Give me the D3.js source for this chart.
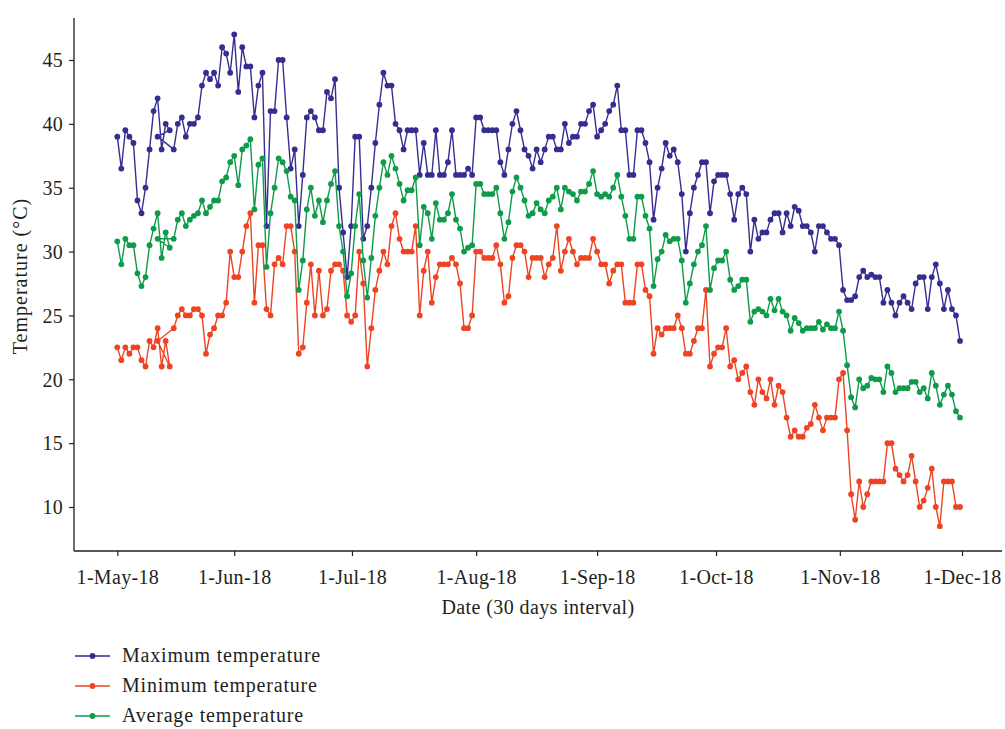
<!DOCTYPE html>
<html><head><meta charset="utf-8">
<script src="https://cdn.jsdelivr.net/npm/d3@7"></script>
<style>
html,body{margin:0;padding:0;background:#fff;}
svg text{font-family:"Liberation Serif","Times New Roman",serif;fill:#231f20;}
</style></head>
<body>
<svg id="chart" width="1005" height="729"></svg>
<script>
// ---- data (sequence order as plotted) ----
const maxTemp = [39.0,36.5,39.5,39.0,38.5,34.0,33.0,35.0,38.0,41.0,42.0,38.0,40.0,39.5,39.0,38.0,40.0,40.5,39.0,40.0,40.0,40.5,43.0,44.0,43.5,44.0,43.0,46.0,45.5,44.0,47.0,42.5,
46.0,44.5,44.5,40.5,43.0,44.0,32.0,41.0,41.0,45.0,45.0,40.5,36.5,38.0,32.0,36.0,40.5,41.0,40.5,39.5,39.5,42.5,42.0,43.5,35.0,31.5,28.0,32.0,39.0,39.0,
31.0,32.0,35.0,38.5,41.5,44.0,43.0,43.0,40.0,39.5,38.0,39.5,39.5,39.5,36.0,38.5,36.0,36.0,39.5,36.0,36.0,37.0,39.5,36.0,36.0,36.0,36.5,36.0,40.5,40.5,
39.5,39.5,39.5,39.5,37.0,36.0,38.0,40.0,41.0,39.5,38.0,37.5,36.5,38.0,37.0,38.0,39.0,39.0,38.0,38.0,40.0,38.5,39.0,39.0,40.0,40.0,41.0,41.5,39.0,
39.5,40.0,41.0,41.5,43.0,39.5,39.5,36.0,36.0,39.5,39.5,38.5,37.0,32.5,35.0,36.5,38.5,37.5,38.0,37.0,34.5,30.0,33.0,35.0,36.0,37.0,37.0,33.0,35.5,36.0,
36.0,36.0,34.5,32.5,34.5,35.0,34.5,30.0,32.5,31.0,31.5,31.5,32.5,33.0,33.0,31.5,33.0,32.0,33.5,33.2,32.0,32.0,31.5,30.0,32.0,32.0,31.5,31.0,31.0,30.5,
27.0,26.2,26.2,26.5,28.0,28.5,28.0,28.2,28.0,28.0,26.0,27.0,26.0,25.0,26.0,26.5,26.0,25.5,27.5,28.0,28.0,25.5,28.0,29.0,27.5,25.5,27.0,25.5,25.0,23.0];

const minTemp = [22.5,21.5,22.5,22.0,22.5,22.5,21.5,21.0,23.0,22.5,24.0,21.0,23.0,21.0,23.0,24.0,25.0,25.5,25.0,25.0,25.5,25.5,25.0,22.0,23.5,24.0,25.0,25.0,26.0,30.0,28.0,28.0,
30.0,32.0,33.0,26.0,30.5,30.5,25.5,25.0,29.0,29.5,29.0,32.0,32.0,30.0,22.0,22.5,26.0,29.0,25.0,28.5,25.0,25.5,28.5,29.0,29.0,28.5,25.0,24.5,25.0,30.0,
27.5,21.0,24.0,27.0,28.5,30.0,29.0,32.0,33.0,31.0,30.0,30.0,30.0,32.0,25.0,28.5,30.0,26.0,28.0,29.0,29.0,29.0,29.5,29.0,27.5,24.0,24.0,25.0,30.0,30.0,
29.5,29.5,29.5,30.5,29.0,26.0,26.5,29.5,30.5,30.5,30.0,28.0,29.5,29.5,29.5,28.0,29.0,29.5,32.0,28.5,30.0,31.0,30.0,29.0,29.5,29.5,29.5,31.0,30.0,
29.0,29.0,27.5,28.5,29.0,29.0,26.0,26.0,26.0,29.0,29.0,27.0,26.5,22.0,24.0,23.5,24.0,24.0,24.0,25.0,24.0,22.0,22.0,23.0,24.0,24.0,27.0,21.0,22.0,22.5,
22.5,24.0,21.0,21.5,20.0,20.5,21.0,19.0,18.0,20.0,19.0,18.5,20.0,18.0,19.5,19.0,17.0,15.5,16.0,15.5,15.5,16.2,16.5,18.0,17.0,16.0,17.0,17.0,17.0,20.0,
20.5,16.0,11.0,9.0,12.0,10.0,11.0,12.0,12.0,12.0,12.0,15.0,15.0,13.0,12.5,12.0,12.5,14.0,12.0,10.0,10.5,11.5,13.0,10.0,8.5,12.0,12.0,12.0,10.0,10.0];

const avgTemp = [30.8,29.0,31.0,30.5,30.5,28.3,27.3,28.0,30.5,31.8,33.0,29.5,31.5,30.3,31.0,31.0,32.5,33.0,32.0,32.5,32.8,33.0,34.0,33.0,33.5,34.0,34.0,35.5,35.8,37.0,37.5,35.2,
38.0,38.3,38.8,33.3,36.8,37.3,28.8,33.0,35.0,37.3,37.0,36.3,34.3,34.0,27.0,29.3,33.3,35.0,32.8,34.0,32.3,34.0,35.3,36.3,32.0,30.0,26.5,28.3,32.0,34.5,
29.3,26.4,29.5,32.8,35.0,37.0,36.0,37.5,36.5,35.3,34.0,34.8,34.8,35.8,30.5,33.5,33.0,31.0,33.8,32.5,32.5,33.0,34.5,32.5,31.8,30.0,30.3,30.5,35.3,35.3,
34.5,34.5,34.5,35.0,33.0,31.0,32.3,34.7,35.8,35.0,34.0,32.8,33.0,33.8,33.3,33.0,34.0,34.3,35.0,33.3,35.0,34.7,34.5,34.0,34.7,34.7,35.3,36.3,34.5,
34.3,34.5,34.3,35.0,36.0,34.3,32.8,31.0,31.0,34.3,34.3,32.8,31.8,27.3,29.4,30.0,31.3,30.8,31.0,31.0,29.3,26.0,27.5,29.0,30.0,30.5,32.0,27.0,28.7,29.3,
29.3,30.0,27.8,27.0,27.3,27.8,27.8,24.5,25.3,25.5,25.3,25.0,26.3,25.4,26.3,25.3,25.0,23.8,24.8,24.4,23.8,24.0,24.0,24.0,24.5,23.9,24.3,24.0,24.0,25.3,
23.8,21.1,18.6,17.8,20.0,19.3,19.5,20.1,20.0,20.0,19.0,21.0,20.5,19.0,19.3,19.3,19.3,19.8,19.8,19.0,19.3,18.5,20.5,19.5,18.0,18.8,19.5,18.8,17.5,17.0];

// day slot of each record (one record in mid-May is filed under an earlier day)
const daySlot = [...d3.range(0, 14), 10, ...d3.range(14, 210)];

const tickLabels = ["1-May-18","1-Jun-18","1-Jul-18","1-Aug-18","1-Sep-18","1-Oct-18","1-Nov-18","1-Dec-18"];
const tickDays = [0, 29, 58.2, 89, 119, 148.5, 179.2, 209.5];
const yTicks = [10, 15, 20, 25, 30, 35, 40, 45];

const seriesNames = ["Maximum temperature", "Minimum temperature", "Average temperature"];
const seriesColors = ["#352e90", "#ee4424", "#0e9c4b"];
const seriesData = [maxTemp, minTemp, avgTemp];

(function () {
  const svg = d3.select("#chart");
  const pLeft = 74, pRight = 1002, pTop = 18, pBottom = 551;
  const ink = "#231f20";

  const x = d3.scaleLinear().domain([0, 209]).range([117.3, 960]);
  const y = d3.scaleLinear().domain([10, 45]).range([507, 60]);

  // y axis
  const yAxis = d3.axisLeft(y).tickValues(yTicks).tickSize(5).tickPadding(6).tickFormat(d3.format("d"));
  const gy = svg.append("g").attr("transform", `translate(${pLeft},0)`).call(yAxis);
  gy.select(".domain").remove();
  gy.selectAll(".tick line").attr("stroke", ink).attr("stroke-width", 1.2);
  gy.selectAll(".tick text").attr("font-size", 20).attr("letter-spacing", "0.3px").attr("dy", "0.34em");
  svg.append("line").attr("x1", pLeft).attr("x2", pLeft).attr("y1", pTop).attr("y2", pBottom)
    .attr("stroke", ink).attr("stroke-width", 1.3);

  // x axis
  const xAxis = d3.axisBottom(x).tickValues(tickDays).tickSize(5).tickPadding(13)
    .tickFormat((d, i) => tickLabels[i]);
  const gx = svg.append("g").attr("transform", `translate(0,${pBottom})`).call(xAxis);
  gx.select(".domain").remove();
  gx.selectAll(".tick line").attr("stroke", ink).attr("stroke-width", 1.2);
  gx.selectAll(".tick text").attr("font-size", 20).attr("letter-spacing", "0.3px").attr("dy", "0.75em");
  svg.append("line").attr("x1", pLeft).attr("x2", pRight).attr("y1", pBottom).attr("y2", pBottom)
    .attr("stroke", ink).attr("stroke-width", 1.3);

  // axis titles
  svg.append("text").attr("x", 538).attr("y", 614).attr("text-anchor", "middle")
    .attr("font-size", 20).attr("letter-spacing", "0.4px").text("Date (30 days interval)");
  svg.append("text").attr("transform", "translate(27,276) rotate(-90)").attr("text-anchor", "middle")
    .attr("font-size", 20).attr("letter-spacing", "1px").text("Temperature (°C)");

  // series
  const line = d3.line().x((d, i) => x(daySlot[i])).y(d => y(d));
  seriesData.forEach((arr, k) => {
    const g = svg.append("g");
    g.append("path").datum(arr).attr("d", line)
      .attr("fill", "none").attr("stroke", seriesColors[k]).attr("stroke-width", 1.4)
      .attr("stroke-linejoin", "round");
    g.selectAll("circle").data(arr).join("circle")
      .attr("cx", (d, i) => x(daySlot[i])).attr("cy", d => y(d)).attr("r", 2.9)
      .attr("fill", seriesColors[k]);
  });

  // legend
  seriesNames.forEach((name, k) => {
    const ly = 656 + k * 30;
    svg.append("line").attr("x1", 75).attr("x2", 110).attr("y1", ly).attr("y2", ly)
      .attr("stroke", seriesColors[k]).attr("stroke-width", 1.4);
    svg.append("circle").attr("cx", 92.5).attr("cy", ly).attr("r", 2.9).attr("fill", seriesColors[k]);
    svg.append("text").attr("x", 122).attr("y", ly + 6).attr("font-size", 20)
      .attr("letter-spacing", "0.8px").text(name);
  });
})();
</script>
</body></html>
